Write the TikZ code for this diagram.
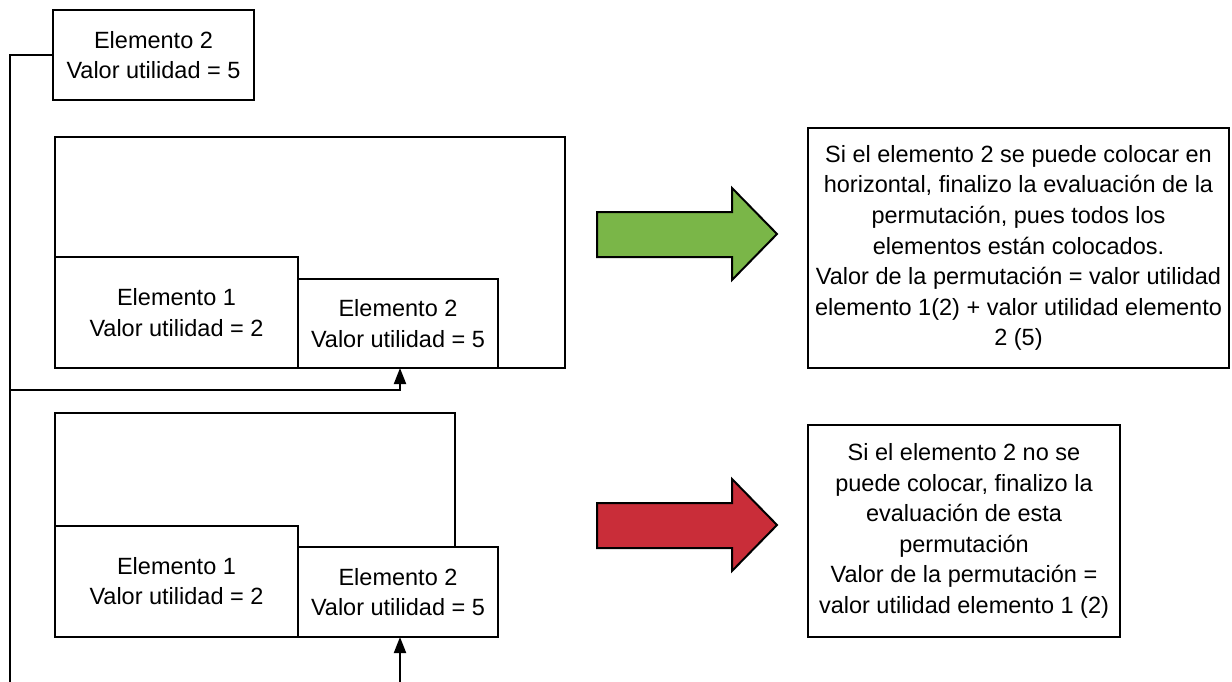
\documentclass[tikz,border=0pt]{standalone}
\usepackage{fontspec}
\setmainfont{Liberation Sans}
\usetikzlibrary{arrows.meta,calc}
\definecolor{lgreen}{HTML}{7AB648}
\definecolor{lred}{HTML}{C92D39}
\begin{document}
\begin{tikzpicture}[x=1pt,y=-1pt,
  every node/.style={font=\fontsize{23.5}{30.6}\selectfont},
  box/.style={draw=black,line width=2pt,fill=white,inner sep=0pt,outer sep=0pt,align=center},
  wire/.style={draw=black,line width=2pt},
  tip/.style={-{Triangle[length=16pt,width=12pt]}},
  blockarrow/.style={draw=black,line width=2pt,line join=miter}]
\useasboundingbox (0,0) rectangle (1232,682);
% top element
\node[box,minimum width=201pt,minimum height=90pt] (top) at (153.5,55) {Elemento 2\\Valor utilidad = 5};
% first container
\node[box,minimum width=510pt,minimum height=231pt] (c1) at (310,252.5) {};
\node[box,minimum width=243pt,minimum height=111pt] (e1a) at (176.5,312.5) {Elemento 1\\Valor utilidad = 2};
\node[box,minimum width=200pt,minimum height=89pt] (e2a) at (398,323.5) {Elemento 2\\Valor utilidad = 5};
% second container (open)
\draw[wire,line join=miter] (455,547) -- (455,413) -- (55,413) -- (55,526);
\node[box,minimum width=243pt,minimum height=111pt] (e1b) at (176.5,581) {Elemento 1\\Valor utilidad = 2};
\node[box,minimum width=200pt,minimum height=90pt] (e2b) at (398,592) {Elemento 2\\Valor utilidad = 5};
% connectors
\coordinate (t1) at (10,55);
\coordinate (t2) at (10,684);
\coordinate (b1) at (10,390);
\coordinate (b2) at (400,390);
\coordinate (bot) at (400,684);
\draw[wire] (top.west) -- (t1) -- (t2);
\draw[wire,tip] (b1) -- (b2) -- (b2 |- e2a.south);
\draw[wire,tip] (bot) -- (bot |- e2b.south);
% block arrows
\draw[blockarrow,fill=lgreen] (597,212) -- (732,212) -- (732,188) -- (777,234) -- (732,280) -- (732,257) -- (597,257) -- cycle;
\draw[blockarrow,fill=lred] (597,503) -- (732,503) -- (732,479) -- (777,525) -- (732,571) -- (732,548) -- (597,548) -- cycle;
% text boxes
\node[box,minimum width=421pt,minimum height=240pt] (r1) at (1018.5,248) {Si el elemento 2 se puede colocar en\\horizontal, finalizo la evaluación de la\\permutación, pues todos los\\elementos están colocados.\\Valor de la permutación = valor utilidad\\elemento 1(2) + valor utilidad elemento\\2 (5)};
\node[box,minimum width=312pt,minimum height=212pt] (r2) at (964,531) {Si el elemento 2 no se\\puede colocar, finalizo la\\evaluación de esta\\permutación\\Valor de la permutación =\\valor utilidad elemento 1 (2)};
\end{tikzpicture}
\end{document}
